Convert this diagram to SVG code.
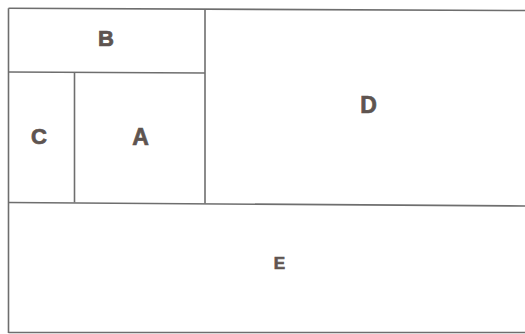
<svg xmlns="http://www.w3.org/2000/svg" width="525" height="334" viewBox="0 0 525 334">
<style>
.ln{stroke:#6e6e6e;stroke-width:1.6;fill:none}
.lb{font-family:"Liberation Sans",Arial,sans-serif;font-weight:bold;fill:#5e5450;stroke:#5e5450;stroke-width:0.7;text-anchor:middle}
</style>
<rect width="525" height="334" fill="#ffffff"/>
<g id="connectors">
<path class="ln" d="M8.5,8.3 L525,10.5"/>
<path class="ln" d="M8.5,8.3 L8.5,333"/>
<path class="ln" d="M8.5,332.5 L525,332.5"/>
<path class="ln" d="M8.5,202.5 L525,206"/>
<path class="ln" d="M8.5,72 L205,73"/>
<path class="ln" d="M74.5,72.5 L74.5,202.5"/>
<path class="ln" d="M205,9 L205,203.5"/>
</g>
<g id="B"><text class="lb" x="106" y="46" font-size="22">B</text></g>
<g id="C"><text class="lb" x="39" y="144" font-size="22">C</text></g>
<g id="A"><text class="lb" x="140.5" y="145" font-size="23">A</text></g>
<g id="D"><text class="lb" x="368.5" y="113" font-size="23">D</text></g>
<g id="E"><text class="lb" x="279.5" y="268.5" font-size="17">E</text></g>
</svg>
